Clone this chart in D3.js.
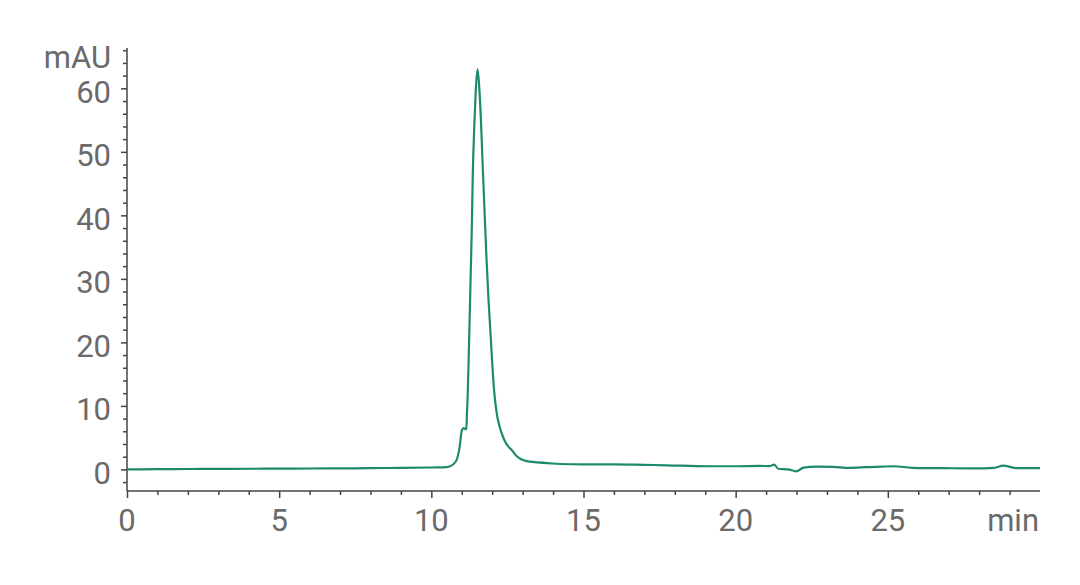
<!DOCTYPE html>
<html>
<head>
<meta charset="utf-8">
<script src="https://cdn.jsdelivr.net/npm/d3@7"></script>
<style>
	html, body { margin: 0; padding: 0; background: #fff; }
	svg { display: block; }
</style>
</head>
<body>
<svg id="chart" width="1080" height="585"></svg>
<script>
// retention time (min) and absorbance (mAU)
const times = [0, 1, 2, 3, 4, 5, 6, 7, 8, 9, 10, 10.5, 10.79, 10.93, 11.0, 11.06, 11.15, 11.17, 11.19, 11.22, 11.25, 11.29, 11.33, 11.36, 11.42, 11.46, 11.52,
	11.58, 11.63, 11.69, 11.75, 11.81, 11.88, 11.95, 12.01, 12.07, 12.15, 12.24, 12.32, 12.43, 12.65, 12.8, 12.95, 13.1, 13.5, 13.9, 14.23, 15.0, 15.98, 17.0, 17.74,
	19.05, 20.0, 20.8, 21.1, 21.27, 21.4, 21.73, 21.99, 22.23, 22.67, 23.2, 23.76, 24.3, 25.2, 25.8, 26.8, 27.8, 28.5, 28.79, 29.24, 30];
const mau = [0.0, 0.03, 0.06, 0.08, 0.1, 0.12, 0.14, 0.16, 0.2, 0.24, 0.3, 0.35, 1.15, 3.5, 6.1, 6.5, 6.3, 8.8, 11.0, 16.0, 22.0, 30.0, 38.0, 46.0, 55.0, 59.7, 63.0,
	59.7, 55.0, 47.5, 40.5, 33.5, 26.6, 21.0, 16.0, 12.0, 8.8, 6.8, 5.6, 4.3, 3.0, 2.1, 1.6, 1.35, 1.1, 0.95, 0.85, 0.78, 0.8, 0.72, 0.65,
	0.5, 0.5, 0.55, 0.52, 0.74, 0.1, 0.0, -0.3, 0.27, 0.45, 0.4, 0.25, 0.35, 0.5, 0.25, 0.2, 0.15, 0.25, 0.6, 0.2, 0.2];

const xMajor = [0, 5, 10, 15, 20, 25];
const xMinor = [1, 2, 3, 4, 6, 7, 8, 9, 11, 12, 13, 14, 16, 17, 18, 19, 21, 22, 23, 24, 26, 27, 28, 29];
const yMajor = [0, 10, 20, 30, 40, 50, 60];
const yMinor = [-2, 2, 4, 6, 8, 12, 14, 16, 18, 22, 24, 26, 28, 32, 34, 36, 38, 42, 44, 46, 48, 52, 54, 56, 58, 62, 64, 66];

const xUnit = 'min';
const yUnit = 'mAU';

class Chromatogram {
	constructor(options){
		this.chartId = options.id;
		this.left = 127;
		this.right = 1040;
		this.top = 48;
		this.bottom = 491;
		this.axisColor = '#444';
		this.textColor = '#6a6a6a';
		this.lineColor = '#1d8a6e';
		this.fontSize = 31;
	}

	draw(){
		let svg = d3.select('#' + this.chartId);
		svg.html('');

		let x = d3.scaleLinear().domain([0, 30]).range([this.left, this.right]);
		let y = d3.scaleLinear().domain([-3.4, 66.35]).range([this.bottom, this.top]);

		let g = svg.append('g');

		// minor ticks first, then major
		let yMinorAxis = d3.axisLeft(y).tickValues(yMinor).tickSize(4).tickFormat('');
		let yMajorAxis = d3.axisLeft(y).tickValues(yMajor).tickSize(6).tickFormat('');
		let xMinorAxis = d3.axisBottom(x).tickValues(xMinor).tickSize(4).tickFormat('');
		let xMajorAxis = d3.axisBottom(x).tickValues(xMajor).tickSize(7).tickFormat('');

		let ya = g.append('g').attr('transform', `translate(${this.left},0)`);
		ya.append('g').call(yMinorAxis);
		ya.append('g').call(yMajorAxis);
		let xa = g.append('g').attr('transform', `translate(0,${this.bottom})`);
		xa.append('g').call(xMinorAxis);
		xa.append('g').call(xMajorAxis);

		g.selectAll('.domain').remove();
		g.selectAll('.tick line').attr('stroke', this.axisColor).attr('stroke-width', 1.5);

		g.append('line')
			.attr('x1', this.left).attr('x2', this.left)
			.attr('y1', this.top).attr('y2', this.bottom)
			.attr('stroke', this.axisColor).attr('stroke-width', 1.5);
		g.append('line')
			.attr('x1', this.left).attr('x2', this.right)
			.attr('y1', this.bottom).attr('y2', this.bottom)
			.attr('stroke', this.axisColor).attr('stroke-width', 1.5);

		let font = 'Roboto, sans-serif';
		let weight = 400;
		g.selectAll('.ylab').data(yMajor).enter().append('text')
			.attr('class', 'ylab')
			.attr('x', this.left - 16)
			.attr('y', d => y(d) + 14.5)
			.attr('text-anchor', 'end')
			.attr('font-family', font)
			.attr('font-weight', weight)
			.attr('font-size', `${this.fontSize}px`)
			.attr('fill', this.textColor)
			.text(d => d);
		g.selectAll('.xlab').data(xMajor).enter().append('text')
			.attr('class', 'xlab')
			.attr('x', d => x(d))
			.attr('y', this.bottom + 40)
			.attr('text-anchor', 'middle')
			.attr('font-family', font)
			.attr('font-weight', weight)
			.attr('font-size', `${this.fontSize}px`)
			.attr('fill', this.textColor)
			.text(d => d);

		g.append('text')
			.attr('x', this.left - 16).attr('y', 68)
			.attr('text-anchor', 'end')
			.attr('font-family', font)
			.attr('font-weight', weight)
			.attr('font-size', `${this.fontSize}px`)
			.attr('fill', this.textColor)
			.text(yUnit);
		g.append('text')
			.attr('x', this.right - 1).attr('y', this.bottom + 40)
			.attr('text-anchor', 'end')
			.attr('font-family', font)
			.attr('font-weight', weight)
			.attr('font-size', `${this.fontSize}px`)
			.attr('fill', this.textColor)
			.text(xUnit);

		let pts = times.map((t, i) => [t, mau[i]]);
		let line = d3.line()
			.x(d => x(d[0]))
			.y(d => y(d[1]))
			.curve(d3.curveMonotoneX);
		g.append('path')
			.datum(pts)
			.attr('fill', 'none')
			.attr('stroke', this.lineColor)
			.attr('stroke-width', 2.2)
			.attr('stroke-linejoin', 'round')
			.attr('d', line);
	}
}

let chart = new Chromatogram({id: 'chart'});
chart.draw();
</script>
</body>
</html>
